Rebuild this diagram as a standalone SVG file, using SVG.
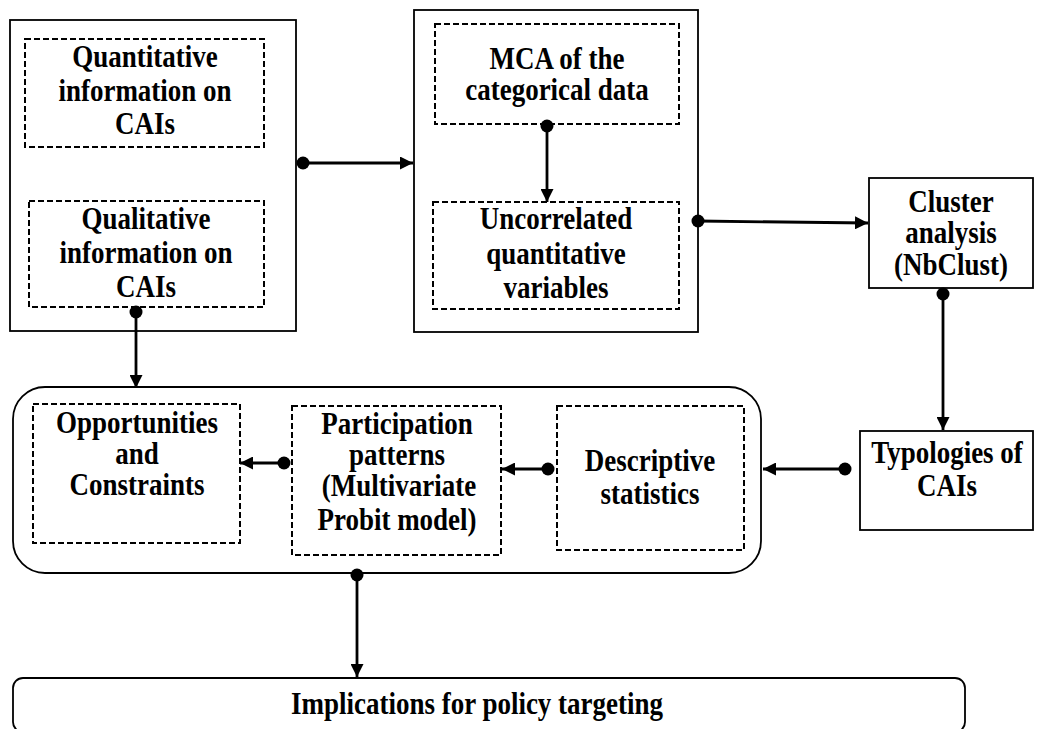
<svg xmlns="http://www.w3.org/2000/svg" width="1038" height="729" viewBox="0 0 1038 729">
<style>
.box{fill:#fff;stroke:#000;stroke-width:1.8}
.dash{fill:none;stroke:#000;stroke-width:2;stroke-dasharray:6,3}
.t{font-family:"Liberation Serif","Times New Roman",serif;font-weight:bold;font-size:27px;text-anchor:middle;fill:#000}
.c{stroke:#000;stroke-width:2.8;fill:none}
.dot{fill:#000}
</style>
<defs>
<marker id="ah" viewBox="0 0 13 13" refX="13" refY="6.5" markerWidth="13" markerHeight="13" markerUnits="userSpaceOnUse" orient="auto">
<path d="M0,0 L13,6.5 L0,13 Z" fill="#000"/>
</marker>
</defs>
<rect width="1038" height="729" fill="#fff"/>
<g id="box1">
<rect class="box" x="10" y="20" width="286" height="311"/>
</g>
<g id="quant">
<rect class="dash" x="25" y="39" width="239" height="108"/>
<text class="t" transform="translate(145,67) scale(1,1.15)">Quantitative</text>
<text class="t" transform="translate(145,101) scale(1,1.15)">information on</text>
<text class="t" transform="translate(145,134) scale(1,1.15)">CAIs</text>
</g>
<g id="qual">
<rect class="dash" x="29" y="201" width="235" height="106"/>
<text class="t" transform="translate(146,229) scale(1,1.15)">Qualitative</text>
<text class="t" transform="translate(146,263) scale(1,1.15)">information on</text>
<text class="t" transform="translate(146,297) scale(1,1.15)">CAIs</text>
</g>
<g id="box2">
<rect class="box" x="414" y="10" width="284" height="322"/>
</g>
<g id="mca">
<rect class="dash" x="435" y="24" width="244" height="100"/>
<text class="t" transform="translate(557,69) scale(1,1.15)">MCA of the</text>
<text class="t" transform="translate(557,100) scale(1,1.15)">categorical data</text>
</g>
<g id="uncorr">
<rect class="dash" x="433" y="202" width="246" height="107"/>
<text class="t" transform="translate(556,229) scale(1,1.15)">Uncorrelated</text>
<text class="t" transform="translate(556,264) scale(1,1.15)">quantitative</text>
<text class="t" transform="translate(556,298) scale(1,1.15)">variables</text>
</g>
<g id="cluster">
<rect class="box" x="869" y="178" width="164" height="110"/>
<text class="t" transform="translate(951,212) scale(1,1.15)">Cluster</text>
<text class="t" transform="translate(951,243) scale(1,1.15)">analysis</text>
<text class="t" transform="translate(951,275) scale(1,1.15)">(NbClust)</text>
</g>
<g id="typologies">
<rect class="box" x="860" y="431" width="173" height="99"/>
<text class="t" transform="translate(947,463) scale(1,1.15)">Typologies of</text>
<text class="t" transform="translate(947,496) scale(1,1.15)">CAIs</text>
</g>
<g id="analysis">
<rect class="box" x="13" y="387" width="748" height="186" rx="32" ry="32"/>
</g>
<g id="opp">
<rect class="dash" x="33" y="404" width="207" height="139"/>
<text class="t" transform="translate(137,433) scale(1,1.15)">Opportunities</text>
<text class="t" transform="translate(137,464) scale(1,1.15)">and</text>
<text class="t" transform="translate(137,495) scale(1,1.15)">Constraints</text>
</g>
<g id="part">
<rect class="dash" x="292" y="406" width="209" height="149"/>
<text class="t" transform="translate(397,434) scale(1,1.15)">Participation</text>
<text class="t" transform="translate(397,465) scale(1,1.15)">patterns</text>
<text class="t" transform="translate(399,496) scale(1,1.15)">(Multivariate</text>
<text class="t" transform="translate(397,530) scale(1,1.15)">Probit model)</text>
</g>
<g id="desc">
<rect class="dash" x="557" y="406" width="187" height="144"/>
<text class="t" transform="translate(650,471) scale(1,1.15)">Descriptive</text>
<text class="t" transform="translate(650,504) scale(1,1.15)">statistics</text>
</g>
<g id="impl">
<rect class="box" x="13" y="678" width="952" height="54" rx="10" ry="10"/>
<text class="t" transform="translate(477,714) scale(1,1.15)">Implications for policy targeting</text>
</g>
<g id="connectors">
<line class="c" x1="303" y1="163" x2="413" y2="163" marker-end="url(#ah)"/>
<circle class="dot" cx="303" cy="163" r="6.5"/>
<line class="c" x1="547" y1="126" x2="547" y2="202" marker-end="url(#ah)"/>
<circle class="dot" cx="547" cy="126" r="6.5"/>
<line class="c" x1="698" y1="221" x2="868" y2="223" marker-end="url(#ah)"/>
<circle class="dot" cx="698" cy="221" r="6.5"/>
<line class="c" x1="943" y1="294" x2="943" y2="430" marker-end="url(#ah)"/>
<circle class="dot" cx="943" cy="294" r="6.5"/>
<line class="c" x1="136" y1="312" x2="136" y2="388" marker-end="url(#ah)"/>
<circle class="dot" cx="136" cy="312" r="6.5"/>
<line class="c" x1="845" y1="469" x2="763" y2="469" marker-end="url(#ah)"/>
<circle class="dot" cx="845" cy="469" r="6.5"/>
<line class="c" x1="548" y1="469" x2="502" y2="469" marker-end="url(#ah)"/>
<circle class="dot" cx="548" cy="469" r="6.5"/>
<line class="c" x1="284" y1="463" x2="240" y2="463" marker-end="url(#ah)"/>
<circle class="dot" cx="284" cy="463" r="6.5"/>
<line class="c" x1="357" y1="575" x2="357" y2="677" marker-end="url(#ah)"/>
<circle class="dot" cx="357" cy="575" r="6.5"/>
</g>
</svg>
